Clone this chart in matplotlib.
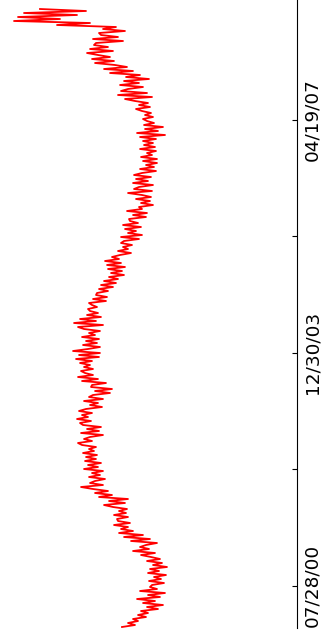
import matplotlib
matplotlib.use("Agg")
import matplotlib.pyplot as plt
import numpy as np

# Series level, oldest first (one sample every 7 trading days)
level = [
    122, 135, 128, 138,
    133, 146, 138, 148,
    141, 158, 147, 163, 143, 155,
    137, 160, 148, 165, 140, 157, 150,
    152, 164, 149, 161, 154, 166, 148, 159,
    150, 167, 153, 162, 147, 160, 151,
    141, 155, 133, 149, 140,
    146, 157, 131, 150, 124, 143,
    119, 133, 121, 128, 114, 130, 118,
    117, 128, 114, 126, 119, 127, 113,
    104, 125, 109, 128,
    99, 112, 95, 108, 93,
    81, 103, 90,
    95, 105, 89, 100,
    92, 103, 84, 98, 88, 101, 85, 96,
    86, 97, 83, 94, 89, 96, 82,
    78, 92, 84,
    90, 103, 81, 99, 87, 101, 83,
    80, 91, 77, 88, 82, 92, 79,
    86, 102, 90, 98, 84, 103, 89,
    93, 110, 95, 112, 91,
    92, 106,
    82, 98, 78, 93, 85,
    81, 93, 84, 90, 80, 92,
    76, 99, 79, 100, 73,
    88, 100, 83, 97, 86, 99, 82, 95, 89, 100, 84,
    78, 103, 74, 96, 80, 101,
    87, 98, 90,
    88, 97, 92,
    89, 106, 93, 107, 96,
    97, 108, 99, 113, 101, 116, 104, 118,
    109, 124, 111, 122, 108, 125,
    107, 121, 105, 119, 112,
    120, 131, 118, 128, 123, 132, 121,
    124, 139, 121, 142, 128, 136,
    125, 141, 123, 138, 130,
    129, 146, 133, 147, 127, 142,
    139, 153, 141, 150,
    136, 151, 142,
    128, 152, 134,
    139, 153, 133, 148, 136, 151, 134,
    142, 156, 140, 154, 146, 157,
    143, 157, 141, 152, 147, 156, 140, 155, 144, 153,
    143, 156,
    140, 165, 137, 158, 145, 163,
    144, 154, 147,
    143, 153, 145, 151, 142,
    136, 150, 139, 148, 135,
    125, 152, 118, 147, 121,
    128, 143, 120, 139,
    124, 149, 126, 140,
    110, 133, 104, 127, 115,
    95, 114, 92, 110, 98,
    87, 113, 90, 108, 94,
    96, 123, 93, 118, 101,
    99, 125, 103,
    116, 57, 90, 14, 60, 18, 77, 24, 86, 40,
]

tick_days = [144, 552, 960, 1368, 1776]
tick_labels = ['07/28/00', '', '12/30/03', '', '04/19/07']

days = np.arange(len(level)) * 7

fig = plt.figure(figsize=(3.32, 6.32), dpi=100)
ax = fig.add_axes([0, 4 / 632, 297 / 332, 628 / 632])

ax.plot(level, days, color='red', linewidth=1.3)

ax.set_xlim(0, 297)
ax.set_ylim(-3.5, 2194.5)

# only the time axis on the right is shown
for side in ['left', 'top', 'bottom']:
    ax.spines[side].set_visible(False)
ax.spines['right'].set_linewidth(0.8)
ax.set_xticks([])
ax.yaxis.tick_right()
ax.set_yticks(tick_days)
ax.set_yticklabels(tick_labels, rotation=90, va='center',
                   fontsize=13.3, family='DejaVu Sans')
ax.tick_params(axis='y', direction='in', length=3.5, width=0.8, pad=4.5)

fig.savefig('out.png', dpi=100)
